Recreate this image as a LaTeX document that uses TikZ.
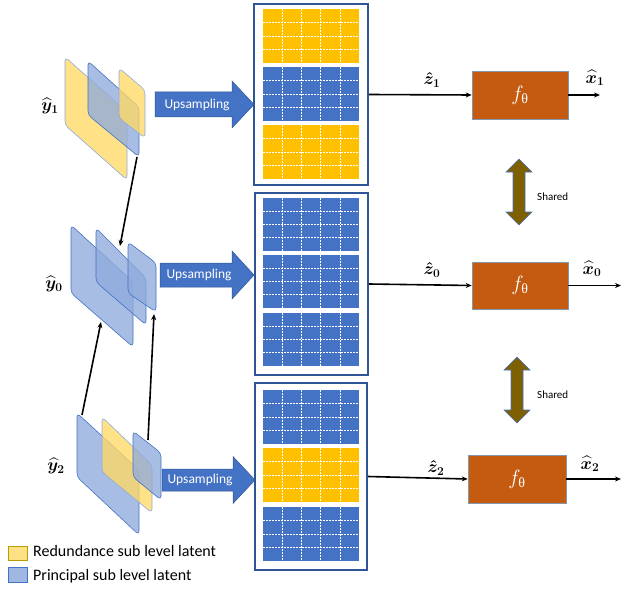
\documentclass[tikz,border=0pt]{standalone}
\usepackage{fontspec}
\usepackage{amsmath}
\newfontfamily\carlito{Carlito}
\newfontfamily\libserif{Liberation Serif}
\usetikzlibrary{arrows.meta}
\definecolor{boxblue}{HTML}{2F5597}
\definecolor{gblue}{HTML}{4472C4}
\definecolor{gyellow}{HTML}{FFC000}
\definecolor{forange}{HTML}{C55A11}
\definecolor{fborder}{HTML}{8497B0}
\definecolor{olive}{HTML}{7F6000}
\definecolor{pyellow}{HTML}{FFD966}
\definecolor{pblue}{HTML}{8FAADC}
\definecolor{pborder}{HTML}{4472C4}
\tikzset{
  bigbox/.style={draw=boxblue, line width=2pt, fill=white, inner sep=0pt},
  gridline/.style={white, dashed, dash pattern=on 2pt off 1pt, line width=0.6pt},
  fbox/.style={draw=fborder, line width=0.6pt, fill=forange, text=white, inner sep=0pt, font=\fontsize{20}{24}\selectfont},
  conn/.style={black, line width=1.6pt, -{Stealth[length=6pt,width=5pt]}},
  plane/.style={line width=0.6pt, rounded corners=4pt, fill opacity=0.78},
  yplane/.style={plane, fill=pyellow, draw=pblue},
  bplane/.style={plane, fill=pblue, draw=pborder},
  upsarrow/.style={fill=gblue, draw=boxblue, line width=0.5pt},
  sharedarrow/.style={fill=olive, draw=pborder, line width=0.6pt},
  mlabel/.style={inner sep=0pt, font=\fontsize{18}{21}\selectfont\boldmath},
  uptext/.style={text=white, inner sep=0pt, font=\carlito\fontsize{13.5}{15}\selectfont},
  legtext/.style={anchor=west, inner sep=0pt, font=\carlito\fontsize{16}{19}\selectfont},
  sharetext/.style={anchor=west, inner sep=0pt, font=\carlito\fontsize{11}{13}\selectfont},
}
\newcommand\gridblk[5]{%
  \fill[#5] (#1,#2) rectangle (#3,#4);
  \foreach \i in {1,...,4} {\draw[gridline] ({#1+\i*(#3-#1)/5},#2) -- ({#1+\i*(#3-#1)/5},#4);}
  \foreach \j in {1,2,3} {\draw[gridline] (#1,{#2+\j*(#4-#2)/4}) -- (#3,{#2+\j*(#4-#2)/4});}
}
% x1, ymid, xhead, xtip, halfshaft, halfhead
\newcommand\upsarr[6]{%
  \draw[upsarrow] (#1,{#2-#5}) -- (#3,{#2-#5}) -- (#3,{#2-#6}) -- (#4,#2) -- (#3,{#2+#6}) -- (#3,{#2+#5}) -- (#1,{#2+#5}) -- cycle;
}
% xc, ytop, ybot, halfshaft, halfhead, headlen
\newcommand\sharr[6]{%
  \draw[sharedarrow] (#1,#2) -- ({#1+#5},{#2+#6}) -- ({#1+#4},{#2+#6}) -- ({#1+#4},{#3-#6}) -- ({#1+#5},{#3-#6}) -- (#1,#3) -- ({#1-#5},{#3-#6}) -- ({#1-#4},{#3-#6}) -- ({#1-#4},{#2+#6}) -- ({#1-#5},{#2+#6}) -- cycle;
}
\begin{document}
\begin{tikzpicture}[x=1pt,y=-1pt]
\useasboundingbox (0,0) rectangle (621,591);

% ---------- planes ----------
\draw[yplane] (65,57) -- (127,112) -- (127,180) -- (65,125) -- cycle;
\draw[bplane] (88,61) -- (139,107) -- (139,157) -- (88,115) -- cycle;
\draw[yplane] (119,68) -- (145,90) -- (145,138) -- (119,118) -- cycle;

\draw[bplane] (71,225) -- (133,282) -- (133,347) -- (71,293) -- cycle;
\draw[bplane] (96,228) -- (146,278) -- (146,325) -- (96,282) -- cycle;
\draw[bplane] (128,242) -- (156,263) -- (156,312) -- (128,293) -- cycle;

\draw[bplane] (77,413) -- (139,470) -- (139,535) -- (77,477) -- cycle;
\draw[yplane] (102,417) -- (152,465) -- (152,513) -- (102,472) -- cycle;
\draw[bplane] (133,431) -- (161,453) -- (161,500) -- (133,477) -- cycle;

\coordinate (a1s) at (137,157); \coordinate (a1e) at (120,246);
\coordinate (a2s) at (82,415);  \coordinate (a2e) at (101,322);
\coordinate (a3s) at (148,440); \coordinate (a3e) at (154,314);
\draw[conn] (a1s) -- (a1e);
\draw[conn] (a2s) -- (a2e);
\draw[conn] (a3s) -- (a3e);

\node[mlabel] (y1) at (50,106) {$\widehat{y}_1$};
\node[mlabel] (y0) at (54,284) {$\widehat{y}_0$};
\node[mlabel] (y2) at (56,466) {$\widehat{y}_2$};

% ---------- upsampling arrows ----------
\upsarr{155}{104.5}{232}{254}{12.5}{23.5}
\node[uptext] (u1) at (197,104.5) {Upsampling};
\upsarr{160}{275}{232}{254}{12}{24}
\node[uptext] (u0) at (199,275) {Upsampling};
\upsarr{162}{480}{233}{255}{11}{23.5}
\node[uptext] (u2) at (200,480) {Upsampling};

% ---------- big boxes ----------
\node[bigbox, minimum width=114pt, minimum height=181pt] (B1) at (311,94.5) {};
\node[bigbox, minimum width=113pt, minimum height=182pt] (B2) at (311.5,284) {};
\node[bigbox, minimum width=112pt, minimum height=187pt] (B3) at (311,476.5) {};

\gridblk{263}{9}{359}{63}{gyellow}
\gridblk{263}{67}{359}{121}{gblue}
\gridblk{263}{125}{359}{179}{gyellow}

\gridblk{263}{198}{359}{251}{gblue}
\gridblk{263}{255}{359}{308}{gblue}
\gridblk{263}{313}{359}{366}{gblue}

\gridblk{263}{390}{359}{444}{gblue}
\gridblk{263}{448}{359}{502}{gyellow}
\gridblk{263}{507}{359}{561}{gblue}

% ---------- f boxes ----------
\node[fbox, minimum width=96pt, minimum height=48pt] (F1) at (520,95) {$f_{\text{\libserif θ}}$};
\node[fbox, minimum width=96pt, minimum height=47pt] (F2) at (520,285.5) {$f_{\text{\libserif θ}}$};
\node[fbox, minimum width=98pt, minimum height=48pt] (F3) at (517,479) {$f_{\text{\libserif θ}}$};

\draw[conn] (B1.east) -- (F1.west);
\draw[conn] (B2.east) -- (F2.west);
\draw[conn] (B3.east) -- (F3.west);

\coordinate (o1) at (600,95);
\coordinate (o0) at (621,285.5);
\coordinate (o2) at (621,479);
\draw[conn] (F1.east) -- (o1);
\draw[conn] (F2.east) -- (o0);
\draw[conn] (F3.east) -- (o2);

\node[mlabel] (z1) at (432,80) {$\hat{z}_1$};
\node[mlabel] (z0) at (432,270) {$\hat{z}_0$};
\node[mlabel] (z2) at (436,468) {$\hat{z}_2$};
\node[mlabel] (x1) at (595,78) {$\widehat{x}_1$};
\node[mlabel] (x0) at (592,269) {$\widehat{x}_0$};
\node[mlabel] (x2) at (590,464) {$\widehat{x}_2$};

% ---------- shared arrows ----------
\sharr{519}{159}{225}{6}{13}{13}
\node[sharetext] (s1) at (537,197) {Shared};
\sharr{517}{357}{423}{6}{13}{13}
\node[sharetext] (s2) at (537,395) {Shared};

% ---------- legend ----------
\node[draw=olive!60!yellow, fill=pyellow!80!white, line width=0.6pt, minimum width=19pt, minimum height=14pt, inner sep=0pt] (ly) at (17.5,553) {};
\node[draw=pborder, fill=pblue!85!white, line width=0.6pt, minimum width=19pt, minimum height=15pt, inner sep=0pt] (lb) at (17.5,574.5) {};
\node[legtext] (lyt) at (33,551) {Redundance sub level latent};
\node[legtext] (lbt) at (33,576) {Principal sub level latent};
\end{tikzpicture}
\end{document}
